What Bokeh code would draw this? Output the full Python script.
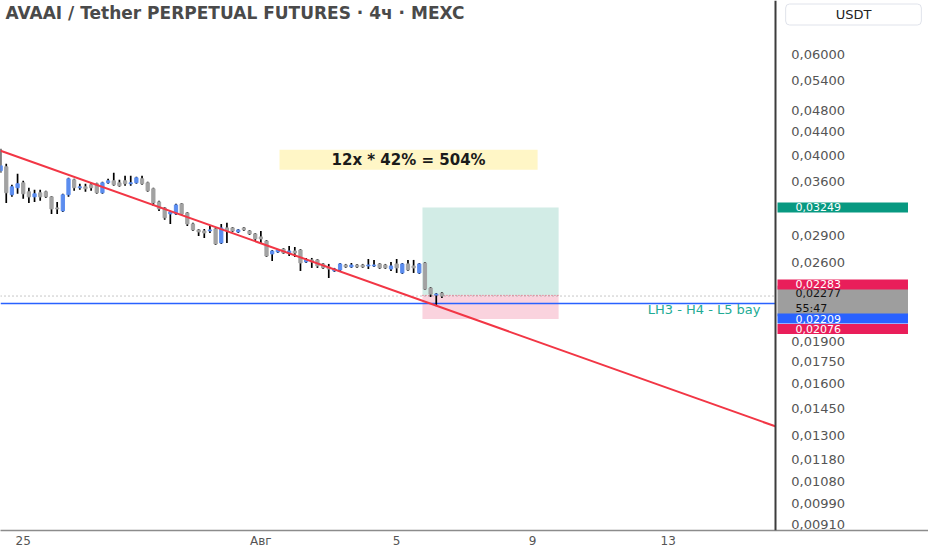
import pandas as pd
from bokeh.plotting import figure
from bokeh.models import (ColumnDataSource, FixedTicker, CustomJSTickFormatter,
                          Label, Range1d)
from bokeh.embed import file_html
from bokeh.resources import INLINE

# ---------------- data ----------------
title_text = "AVAAI / Tether PERPETUAL FUTURES · 4ч · MEXC"
quote_text = "USDT"
first_candle = "2025-07-24 08:00"

opens = [0.03764, 0.03825, 0.03418, 0.03516, 0.03587, 0.03460, 0.03390, 0.03446, 0.03460, 0.03390,
         0.03243, 0.03204, 0.03418, 0.03630, 0.03516, 0.03530, 0.03558, 0.03573, 0.03446, 0.03587,
         0.03616, 0.03587, 0.03616, 0.03573, 0.03587, 0.03645, 0.03587, 0.03502, 0.03322, 0.03243,
         0.03166, 0.03166, 0.03296, 0.03179, 0.03041, 0.02969, 0.02957, 0.02957, 0.02981, 0.02818,
         0.02993, 0.02993, 0.02945, 0.02993, 0.02957, 0.02922, 0.02887, 0.02840, 0.02696, 0.02717,
         0.02750, 0.02706, 0.02728, 0.02739, 0.02611, 0.02632, 0.02632, 0.02590, 0.02559, 0.02518,
         0.02528, 0.02579, 0.02559, 0.02579, 0.02579, 0.02569, 0.02569, 0.02590, 0.02579, 0.02538,
         0.02590, 0.02498, 0.02590, 0.02569, 0.02498, 0.02600, 0.02351, 0.02286, 0.02304]
highs = [0.04112, 0.03871, 0.03558, 0.03719, 0.03616, 0.03516, 0.03488, 0.03488, 0.03473, 0.03403,
         0.03322, 0.03432, 0.03660, 0.03645, 0.03573, 0.03573, 0.03587, 0.03587, 0.03601, 0.03645,
         0.03734, 0.03630, 0.03689, 0.03689, 0.03674, 0.03689, 0.03601, 0.03516, 0.03336, 0.03256,
         0.03204, 0.03296, 0.03309, 0.03191, 0.03054, 0.02981, 0.02981, 0.03017, 0.02993, 0.03041,
         0.03054, 0.03005, 0.02981, 0.03005, 0.02969, 0.02933, 0.02957, 0.02852, 0.02739, 0.02750,
         0.02762, 0.02784, 0.02773, 0.02750, 0.02653, 0.02653, 0.02642, 0.02600, 0.02590, 0.02549,
         0.02600, 0.02590, 0.02600, 0.02590, 0.02590, 0.02642, 0.02632, 0.02600, 0.02590, 0.02611,
         0.02642, 0.02600, 0.02632, 0.02632, 0.02600, 0.02611, 0.02360, 0.02304, 0.02313]
lows = [0.03734, 0.03309, 0.03390, 0.03432, 0.03363, 0.03309, 0.03322, 0.03336, 0.03376, 0.03166,
        0.03166, 0.03191, 0.03390, 0.03473, 0.03488, 0.03460, 0.03473, 0.03432, 0.03432, 0.03573,
        0.03544, 0.03530, 0.03544, 0.03544, 0.03573, 0.03558, 0.03460, 0.03269, 0.03204, 0.03091,
        0.03041, 0.03153, 0.03153, 0.03017, 0.02957, 0.02898, 0.02875, 0.02933, 0.02795, 0.02806,
        0.02818, 0.02945, 0.02933, 0.02957, 0.02910, 0.02840, 0.02818, 0.02663, 0.02621, 0.02706,
        0.02696, 0.02674, 0.02663, 0.02518, 0.02600, 0.02549, 0.02549, 0.02538, 0.02448, 0.02508,
        0.02518, 0.02549, 0.02549, 0.02549, 0.02549, 0.02538, 0.02559, 0.02538, 0.02538, 0.02518,
        0.02498, 0.02488, 0.02518, 0.02498, 0.02488, 0.02332, 0.02268, 0.02187, 0.02259]
closes = [0.03840, 0.03446, 0.03530, 0.03573, 0.03432, 0.03390, 0.03432, 0.03390, 0.03390, 0.03230,
          0.03230, 0.03418, 0.03645, 0.03516, 0.03530, 0.03502, 0.03516, 0.03446, 0.03587, 0.03616,
          0.03558, 0.03544, 0.03573, 0.03587, 0.03660, 0.03573, 0.03473, 0.03309, 0.03230, 0.03116,
          0.03191, 0.03282, 0.03166, 0.03041, 0.02969, 0.02945, 0.02933, 0.02969, 0.02806, 0.02993,
          0.02957, 0.02957, 0.02969, 0.02969, 0.02922, 0.02864, 0.02864, 0.02674, 0.02728, 0.02739,
          0.02706, 0.02728, 0.02706, 0.02600, 0.02632, 0.02611, 0.02569, 0.02549, 0.02538, 0.02538,
          0.02590, 0.02559, 0.02579, 0.02559, 0.02559, 0.02579, 0.02579, 0.02549, 0.02549, 0.02569,
          0.02549, 0.02590, 0.02528, 0.02549, 0.02590, 0.02341, 0.02295, 0.02295, 0.02277]

x_tick_dates = ["2025-07-25", "2025-08-01", "2025-08-05", "2025-08-09", "2025-08-13"]
y_ticks = [0.06, 0.054, 0.048, 0.044, 0.040, 0.036, 0.029, 0.026,
           0.019, 0.0175, 0.016, 0.0145, 0.013, 0.0118, 0.0108, 0.0099, 0.0091]

trend_times = ["2025-07-24 08:00", "2025-08-16 03:40"]
trend_prices = [0.0408, 0.0135]

position_times = ["2025-08-05 18:15", "2025-08-09 18:30"]
entry_price = 0.02283
target_price = 0.03249
stop_price = 0.02076
current_price = 0.02277
countdown = "55:47"

level_price = 0.02209
level_text = "LH3 - H4 - L5 bay"
level_text_time = "2025-08-15 17:15"

note_text = "12x * 42% = 504%"
note_time = "2025-08-05 08:25"
note_price = 0.03934

# ---------------- layout / styling ----------------
FONT = "DejaVu Sans"
UP = "#5B8DEF"
DOWN = "#A2A2A2"
W, H = 928, 550
x_start = pd.Timestamp("2025-07-24 07:56")
x_end = pd.Timestamp("2025-08-20 16:00")
scale_at = pd.Timestamp("2025-08-16 03:40")      # where the price scale starts
y_lo, y_hi = 0.008886, 0.07455

times = pd.date_range(first_candle, periods=len(opens), freq="4h")
src = ColumnDataSource(dict(
    t=times,
    high=highs, low=lows,
    top=[max(o, c) for o, c in zip(opens, closes)],
    bot=[min(o, c) for o, c in zip(opens, closes)],
    color=[UP if c > o else DOWN for o, c in zip(opens, closes)],
))

p = figure(width=W, height=H, x_axis_type="datetime", y_axis_type="log",
           y_axis_location="right",
           x_range=Range1d(x_start.to_pydatetime(), x_end.to_pydatetime()),
           y_range=Range1d(y_lo, y_hi),
           output_backend="svg", toolbar_location=None,
           min_border_left=0, min_border_top=0, min_border_right=0,
           min_border_bottom=12)
p.outline_line_color = None
p.grid.visible = False
p.background_fill_color = "white"
p.border_fill_color = "white"

xs = x_start.to_pydatetime()
xa = scale_at.to_pydatetime()

# position tool
pt0 = pd.Timestamp(position_times[0]).to_pydatetime()
pt1 = pd.Timestamp(position_times[1]).to_pydatetime()
p.quad(left=[pt0], right=[pt1], bottom=[entry_price], top=[target_price],
       fill_color="#D2ECE6", line_color=None)
p.quad(left=[pt0], right=[pt1], bottom=[stop_price], top=[entry_price],
       fill_color="#FAD3DE", line_color=None)

# current price dotted line, entry line
p.line(x=[xs, xa], y=[current_price, current_price], line_color="#8F8F8F",
       line_dash="1 3", line_width=1)
p.line(x=[pt0, pt1], y=[entry_price, entry_price], line_color="#D9566F",
       line_dash="1 2", line_width=1)

# blue level
p.line(x=[xs, xa], y=[level_price, level_price], line_color="#2962FF", line_width=1.5)

# candles
body_ms = 2.3 * 3600 * 1000
p.segment(x0="t", y0="high", x1="t", y1="low", line_color="#000000", line_width=1.7, source=src)
p.vbar(x="t", width=body_ms, top="top", bottom="bot", fill_color="color",
       line_color="color", line_width=1, source=src)

# trend line
p.line(x=[pd.Timestamp(t).to_pydatetime() for t in trend_times], y=trend_prices,
       line_color="#F23645", line_width=2)

# price scale (axis drawn at a fixed place inside the frame)
yax = p.yaxis[0]
yax.fixed_location = scale_at.value // 10**6
yax.ticker = FixedTicker(ticks=y_ticks)
yax.formatter = CustomJSTickFormatter(code="return tick.toFixed(5).replace('.', ',');")
yax.major_label_text_font = FONT
yax.major_label_text_font_size = "13px"
yax.major_label_text_color = "#555555"
yax.major_label_standoff = 16
yax.major_tick_line_color = None
yax.minor_tick_line_color = None
yax.major_tick_out = 0
yax.minor_tick_out = 0
yax.axis_line_color = "#3C3C3C"
yax.axis_line_width = 2

p.xaxis.ticker = FixedTicker(ticks=[pd.Timestamp(d).value // 10**6 for d in x_tick_dates])
p.xaxis.formatter = CustomJSTickFormatter(
    code="const d = new Date(tick); const day = d.getUTCDate(); return day === 1 ? 'Авг' : String(day);")
p.xaxis.major_label_text_font = FONT
p.xaxis.major_label_text_font_size = "12px"
p.xaxis.major_label_text_color = "#555555"
p.xaxis.major_label_standoff = 3
p.xaxis.major_tick_line_color = None
p.xaxis.minor_tick_line_color = None
p.xaxis.major_tick_out = 0
p.xaxis.minor_tick_out = 0
p.xaxis.axis_line_color = "#8C8C8C"
p.xaxis.axis_line_width = 1.5

# title and quote currency
p.add_layout(Label(x=5, y=y_hi, x_units="screen", y_units="data", y_offset=-12,
                   text=title_text, text_font=FONT, text_font_size="17px",
                   text_font_style="bold", text_color="#4A4A4A",
                   text_align="left", text_baseline="middle"))
p.add_layout(Label(x=853, y=y_hi, x_units="screen", y_units="data", y_offset=-14,
                   text=quote_text, text_font=FONT, text_font_size="13px",
                   text_color="#222222", text_align="center", text_baseline="middle",
                   background_fill_color="white", border_line_color="#E0E3EB",
                   border_radius=4, padding=dict(left=50, right=50, top=3, bottom=3)))

# note
p.add_layout(Label(x=pd.Timestamp(note_time).to_pydatetime(), y=note_price,
                   text=note_text, text_font=FONT, text_font_size="15px",
                   text_font_style="bold", text_color="#1A1A1A",
                   text_align="center", text_baseline="middle",
                   background_fill_color="#FFF6C6",
                   padding=dict(left=52, right=52, top=1, bottom=1)))

# level label
p.add_layout(Label(x=pd.Timestamp(level_text_time).to_pydatetime(), y=level_price, y_offset=-6,
                   text=level_text, text_font=FONT, text_font_size="13px",
                   text_color="#22AB94", text_align="right", text_baseline="middle"))

# price tags on the scale
def tag(txt, price, yoff, bg, fg):
    p.add_layout(Label(x=777, y=price, x_units="screen", y_units="data",
                       y_offset=yoff, text=txt, text_font=FONT, text_font_size="11px",
                       text_color=fg, text_align="left", text_baseline="middle",
                       background_fill_color=bg,
                       padding=dict(left=18, right=67, top=1, bottom=1)))

def fmt(v):
    return f"{v:.5f}".replace(".", ",")

tag(fmt(current_price) + "\n" + countdown, current_price, -5, "#9E9E9E", "#111111")
tag(fmt(target_price), target_price, 0, "#089981", "white")
tag(fmt(entry_price), entry_price, 11, "#E91E5A", "white")
tag(fmt(level_price), level_price, -15, "#2962FF", "white")
tag(fmt(stop_price), stop_price, -10, "#E91E5A", "white")

open("out.html", "w").write(file_html(p, INLINE))
